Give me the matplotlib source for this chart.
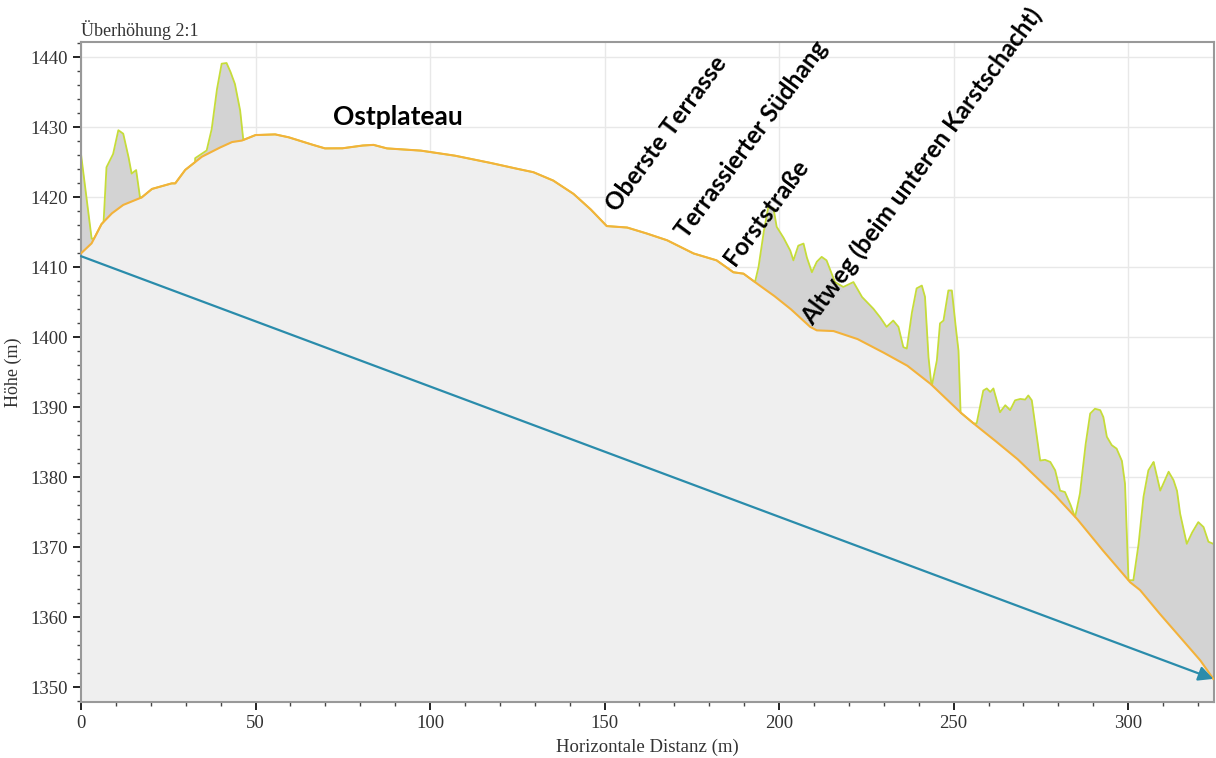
import numpy as np
import matplotlib
matplotlib.use("Agg")
import matplotlib.pyplot as plt
from matplotlib.ticker import MultipleLocator

# ---------------- data ----------------
terrain_x = [0, 3, 5.9, 8.8, 12, 17.4, 20.3, 26, 27, 29.8, 34.6, 39.3, 43.2, 46, 49.9,
             55.6, 59.4, 65.1, 69.9, 74.7, 80.4, 83.8, 87.6, 97.1, 106.7, 116.2, 122.9,
             129.6, 135.3, 141.1, 145.8, 150.6, 156.4, 161.1, 167.8, 175.4, 182.1, 186.9,
             189.8, 193.6, 198.4, 203.2, 208.9, 210.8, 215.6, 222.3, 228.9, 236.6, 243.3,
             251.9, 255.7, 260.5, 268.1, 278.6, 285.3, 292, 296.8, 300.6, 303.4, 308.2,
             314.8, 320.6, 324.4]
terrain_y = [1412, 1413.4, 1416.2, 1417.7, 1418.9, 1420.0, 1421.2, 1422, 1422, 1423.9,
             1425.8, 1427, 1427.9, 1428.1, 1428.9, 1429, 1428.6, 1427.7, 1427, 1427,
             1427.4, 1427.5, 1427.0, 1426.7, 1426.0, 1425.05, 1424.3, 1423.6, 1422.4,
             1420.5, 1418.4, 1415.9, 1415.7, 1415.0, 1413.9, 1412, 1411, 1409.3, 1409.1,
             1407.7, 1406, 1404.1, 1401.5, 1401, 1400.9, 1399.8, 1398.1, 1396, 1393.4,
             1389.3, 1387.7, 1385.8, 1382.7, 1377.7, 1374.1, 1370.0, 1367.2, 1365.0,
             1363.9, 1361.0, 1357.2, 1353.9, 1351.2]

# vegetation / surface segments (absolute heights)
veg1_x = [0, 3.05, 5, 6.4, 7.3, 9.2, 10.7, 12.1, 13.6, 14.5, 15.8, 16.9]
veg1_y = [1426.2, 1414.1, 1414.1, 1415.8, 1424.3, 1426.2, 1429.6, 1429.1, 1425.8,
          1423.4, 1423.9, 1420.0]
veg2_x = [32.7, 34.5, 36, 37.4, 38.9, 40.3, 41.7, 42.7, 44.1, 45.6, 46.5]
veg2_y = [1425.6, 1426.2, 1426.7, 1429.6, 1435.3, 1439.1, 1439.2, 1438.1, 1436.2,
          1432.4, 1428.2]
veg3_x = [193.1, 194.1, 195.5, 196.9, 198.4, 199.3, 201.2, 203.2, 204.1, 205.5, 207,
          207.9, 209.4, 210.8, 212.2, 213.6, 216, 218.4, 221.3, 223.7, 227, 228.9,
          230.8, 232.7, 234.2, 235.6, 236.6, 238, 239.4, 240.9, 241.8, 242.8, 243.7,
          245.2, 246.1, 247.1, 248.5, 249.5, 250.4, 251.4, 252]
veg3_y = [1407.9, 1410, 1414.8, 1418.6, 1418.4, 1415.8, 1414.3, 1412.4, 1411, 1413.1,
          1413.4, 1411.5, 1409.3, 1410.8, 1411.5, 1411, 1407.9, 1407.2, 1407.9, 1405.8,
          1404.1, 1402.9, 1401.5, 1402.4, 1401.5, 1398.6, 1398.4, 1403.4, 1407, 1407.4,
          1405.8, 1397.2, 1392.9, 1396.7, 1402, 1402.4, 1406.7, 1406.7, 1402.4, 1398.1,
          1389.1]
veg4_x = [255.7, 256.6, 258.5, 259.5, 260.5, 261.4, 263.3, 264.8, 266.2, 267.6, 269.1,
          270.5, 271.4, 272.4, 274.8, 276.2, 277.7, 279.1, 280.5, 281.9, 283.4, 284.8,
          286.2, 287.7, 289.1, 290.5, 292, 292.9, 293.9, 295.3, 296.7, 298.2, 299.1,
          300.1, 301.5, 303, 304.4, 305.8, 307.3, 309.2, 310.1, 311.6, 313, 314, 314.9,
          316.8, 318.2, 320.1, 321.6, 323, 324.4]
veg4_y = [1387.7, 1387.7, 1392.4, 1392.7, 1392.2, 1392.7, 1389.3, 1390.3, 1389.6, 1391,
          1391.2, 1391.1, 1391.7, 1391, 1382.4, 1382.5, 1382.2, 1381, 1378.1, 1377.9,
          1376.2, 1374.3, 1377.7, 1384.3, 1389.1, 1389.8, 1389.6, 1388.6, 1385.8, 1384.6,
          1384.1, 1382.4, 1379.1, 1365.3, 1365.3, 1370.5, 1377.2, 1381, 1382.2, 1378.1,
          1379.1, 1380.8, 1379.6, 1378.1, 1374.8, 1370.5, 1372, 1373.6, 1372.9, 1370.8,
          1370.5]

# straight line between start and end points
line_x = [0, 324.4]
line_y = [1411.6, 1351.2]

labels = ["Oberste Terrasse", "Terrassierter Südhang", "Forststraße",
          "Altweg (beim unteren Karstschacht)"]
label_x = [153.5, 173.5, 187.4, 209.8]
label_y = [1417.7, 1413.9, 1410.0, 1401.5]

# ---------------- build profile ----------------
grid = np.unique(np.concatenate([np.linspace(0, 324.4, 1500), terrain_x,
                                 veg1_x, veg2_x, veg3_x, veg4_x]))
ground = np.interp(grid, terrain_x, terrain_y)
surface = ground.copy()
for vx, vy in [(veg1_x, veg1_y), (veg2_x, veg2_y), (veg3_x, veg3_y), (veg4_x, veg4_y)]:
    m = (grid >= vx[0]) & (grid <= vx[-1])
    surface[m] = np.maximum(ground[m], np.interp(grid[m], vx, vy))

# ---------------- plot ----------------
serif = ["Liberation Serif", "DejaVu Serif"]
plt.rcParams["font.family"] = serif

fig = plt.figure(figsize=(12.16, 7.58), dpi=100)
ax = fig.add_axes([81 / 1216, 1 - 702 / 758, (1214 - 81) / 1216, (702 - 42) / 758])

ymin, ymax = 1347.9, 1442.2
ax.set_xlim(0, 324.6)
ax.set_ylim(ymin, ymax)

ax.set_axisbelow(True)
ax.grid(True, which="major", color="#e8e8e8", lw=1.0)

ax.fill_between(grid, ymin, ground, color="#efefef", lw=0, zorder=1)
ax.fill_between(grid, ground, surface, color="#d3d3d3", lw=0, zorder=1)
ax.plot(grid, surface, color="#c6dc3a", lw=1.3, zorder=2)
ax.plot(grid, ground, color="#f3b23a", lw=1.5, zorder=3)

ax.annotate("", xy=(line_x[1], line_y[1]), xytext=(line_x[0], line_y[0]),
            arrowprops=dict(arrowstyle="-|>", color="#2a8cab", lw=1.6,
                            mutation_scale=22, shrinkA=0, shrinkB=0),
            zorder=4)

bold_font = ["Lato", "DejaVu Sans"]
ax.text(72.2, 1430.3, "Ostplateau", fontsize=19, fontweight="bold",
        family=bold_font, ha="left", va="baseline", zorder=5)
for t, xx, yy in zip(labels, label_x, label_y):
    ax.text(xx, yy, t, fontsize=17.5, fontweight="bold", family=bold_font,
            rotation=53.5, rotation_mode="anchor", ha="left", va="baseline", zorder=5)

ax.xaxis.set_major_locator(MultipleLocator(50))
ax.xaxis.set_minor_locator(MultipleLocator(10))
ax.yaxis.set_major_locator(MultipleLocator(10))
ax.yaxis.set_minor_locator(MultipleLocator(2))
ax.tick_params(which="major", length=6, width=1.4, color="#222222",
               labelsize=13.5, labelcolor="#333333", direction="out")
ax.tick_params(which="minor", length=3, width=1.0, color="#444444", direction="out")

for s in ax.spines.values():
    s.set_color("#999999")
    s.set_linewidth(1.5)

ax.set_xlabel("Horizontale Distanz (m)", fontsize=13.5, color="#333333", labelpad=5)
ax.set_ylabel("Höhe (m)", fontsize=13, color="#333333", labelpad=6)
ax.set_title("Überhöhung 2:1", loc="left", fontsize=13, color="#333333", pad=4)

fig.savefig("out.png", dpi=100)
